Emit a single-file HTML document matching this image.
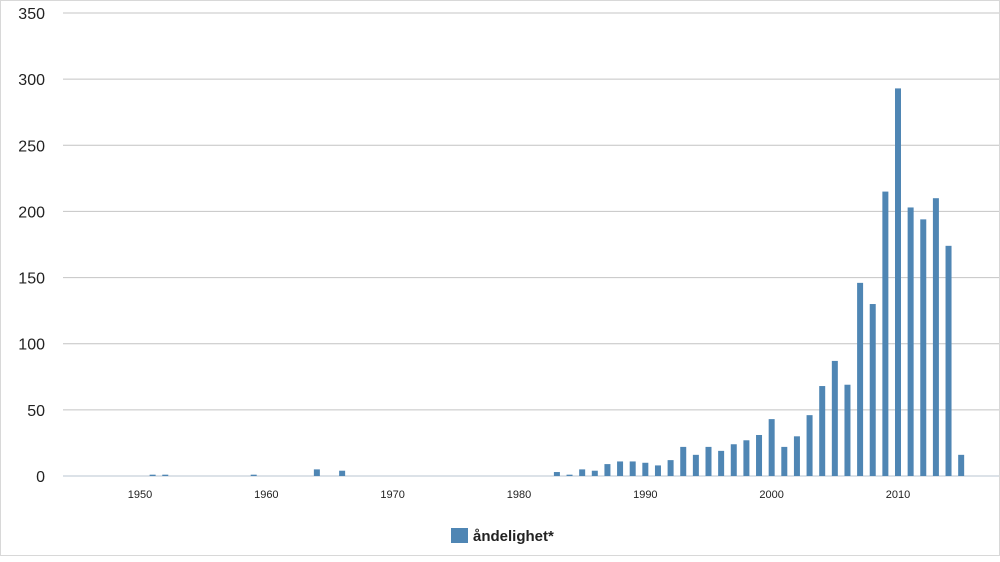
<!DOCTYPE html>
<html><head><meta charset="utf-8"><style>
body{margin:0;background:#fff;font-family:"Liberation Sans",sans-serif}
#wrap{position:relative;width:1000px;height:556px;border:1px solid #d8d8d8;box-sizing:border-box}
</style></head><body>
<div id="wrap">
<svg id="chart" width="1000" height="556"></svg>
</div>
<script>
const years=[1951,1952,1959,1964,1966,1983,1984,1985,1986,1987,1988,1989,1990,1991,1992,1993,1994,1995,1996,1997,1998,1999,2000,2001,2002,2003,2004,2005,2006,2007,2008,2009,2010,2011,2012,2013,2014,2015];
const counts=[1,1,1,5,4,3,1,5,4,9,11,11,10,8,12,22,16,22,19,24,27,31,43,22,30,46,68,87,69,146,130,215,293,203,194,210,174,16];
const yTicks=[0,50,100,150,200,250,300,350];
const xTicks=[1950,1960,1970,1980,1990,2000,2010];
const NS='http://www.w3.org/2000/svg';
const svg=document.getElementById('chart');
const x=v=>139+(v-1950)*(897-139)/60;
const y=v=>475-v*(463/350);
function mk(t,a){const e=document.createElementNS(NS,t);for(const k in a)e.setAttribute(k,a[k]);svg.appendChild(e);return e;}
yTicks.forEach(t=>{
 const l=mk('line',{x1:62,x2:998,y1:y(t),y2:y(t),stroke:t===0?'#b8c4d2':'#c4c4c4','stroke-width':1});
 
 
 const tx=mk('text',{x:44,y:y(t)+6,'text-anchor':'end','font-size':16,fill:'#222'});
 tx.textContent=t;
 
 
});
xTicks.forEach(t=>{
 const tx=mk('text',{x:x(t),y:497,'text-anchor':'middle','font-size':11,fill:'#222'});
 tx.textContent=t;
 
 
});
years.forEach((yr,i)=>{
 const h=counts[i]*(463/350);
 const r=mk('rect',{x:x(yr)-3,y:475-h,width:6,height:h,fill:'#4f86b4'});
 
 
});
const lg=mk('rect',{x:450,y:527,width:17,height:15,fill:'#4f86b4'});


const lt=mk('text',{x:472,y:540,'font-size':15,'font-weight':'bold',fill:'#222'});
lt.textContent='ådelighet*'.replace('å','ånd').replace('åndd','ånd');
lt.textContent='åndelighet*';


</script>
</body></html>
